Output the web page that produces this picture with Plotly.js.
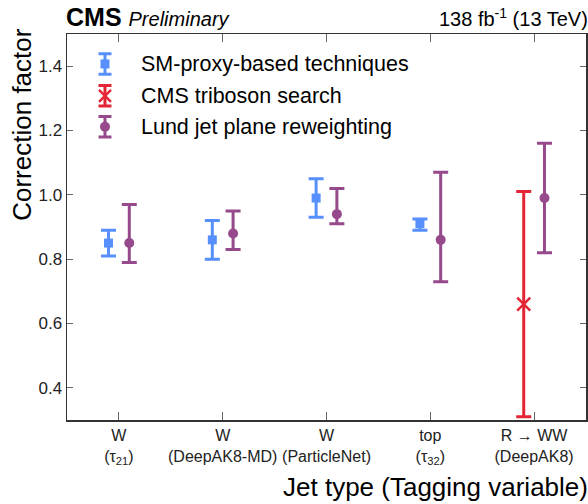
<!DOCTYPE html>
<html><head><meta charset="utf-8">
<script src="https://cdn.plot.ly/plotly-3.0.1.min.js"></script>
<style>html,body{margin:0;padding:0;background:#fff}</style>
</head><body><div id="chart" style="width:588px;height:504px"></div>
<script>
const categories = ["W<br>(τ<sub>21</sub>)", "W<br>(DeepAK8-MD)", "W<br>(ParticleNet)", "top<br>(τ<sub>32</sub>)", "R → WW<br>(DeepAK8)"];

// SM-proxy-based techniques (first four categories)
const smIdx = [0, 1, 2, 3];
const smVal = [0.85, 0.86, 0.99, 0.91];
const smUp = [0.89, 0.92, 1.05, 0.925];
const smLo = [0.81, 0.80, 0.93, 0.89];

// CMS triboson search (last category)
const tribIdx = [4];
const tribVal = [0.66];
const tribUp = [1.01];
const tribLo = [0.31];

// Lund jet plane reweighting (all categories)
const lundIdx = [0, 1, 2, 3, 4];
const lundVal = [0.85, 0.88, 0.94, 0.86, 0.99];
const lundUp = [0.97, 0.95, 1.02, 1.07, 1.16];
const lundLo = [0.79, 0.83, 0.91, 0.73, 0.82];

const seriesNames = ["SM-proxy-based techniques", "CMS triboson search", "Lund jet plane reweighting"];

const OFF = 0.1;
const blue = "#5790fc", red = "#e42536", purple = "#964a8b";
const FONT = "Liberation Sans, Arial, Helvetica, sans-serif";

function style(color, symbol, size) {
  return {color: color, symbol: symbol, size: size,
    line: {color: color, width: symbol.startsWith("x") ? 2.5 : 0}};
}
function mk(name, idx, off, val, up, lo, color, symbol, size) {
  return {
    type: "scatter", mode: "markers", name: name, showlegend: false,
    x: idx.map(i => i + off), y: val,
    marker: style(color, symbol, size),
    error_y: {type: "data", symmetric: false,
      array: up.map((u, k) => u - val[k]),
      arrayminus: lo.map((l, k) => val[k] - l),
      color: color, thickness: 3, width: 7.5}
  };
}

const traces = [
  mk(seriesNames[0], smIdx, -OFF, smVal, smUp, smLo, blue, "square", 9),
  mk(seriesNames[1], tribIdx, -OFF, tribVal, tribUp, tribLo, red, "x-thin", 13),
  mk(seriesNames[2], lundIdx, OFF, lundVal, lundUp, lundLo, purple, "circle", 10)
];

// Legend key glyphs drawn on an invisible overlay axis (layout decoration, not data)
const legendColors = [blue, red, purple];
const legendSymbols = ["square", "x-thin", "circle"];
const legendSizes = [9, 12, 10];
const legendRowY = [0.9225, 0.8398, 0.7597];
const legendKeyX = 0.0732, legendTextX = 0.139, legendHalf = 0.0266;
legendColors.forEach((c, k) => {
  traces.push({type: "scatter", mode: "markers", xaxis: "x2", yaxis: "y2", showlegend: false,
    hoverinfo: "skip", x: [legendKeyX], y: [legendRowY[k]],
    marker: style(c, legendSymbols[k], legendSizes[k]),
    error_y: {type: "constant", value: legendHalf, color: c, thickness: 3, width: 6.5}});
});

const axisCommon = {showline: true, linecolor: "#333", linewidth: 1.5, mirror: "ticks",
  ticks: "inside", tickcolor: "#666", tickwidth: 1, showgrid: false, zeroline: false,
  tickfont: {family: FONT, size: 17, color: "#222"}};

const annotations = [
  {xref: "paper", yref: "paper", x: 0, y: 1, xanchor: "left", yanchor: "bottom", yshift: 1, xshift: -3, showarrow: false,
   text: "<b>CMS</b> <i style='font-size:20px'>Preliminary</i>", font: {family: FONT, size: 25, color: "#000"}},
  {xref: "paper", yref: "paper", x: 1, y: 1, xanchor: "right", yanchor: "bottom", yshift: 2, xshift: 4, showarrow: false,
   text: "138 fb<sup>-1</sup> (13 TeV)", font: {family: FONT, size: 20, color: "#000"}},
  {xref: "paper", yref: "paper", x: 1, y: 0, xanchor: "right", yanchor: "middle", yshift: -67, xshift: 4, showarrow: false,
   text: "Jet type (Tagging variable)", font: {family: FONT, size: 26, color: "#000"}},
  {xref: "paper", yref: "paper", x: 0, y: 1.02, xanchor: "center", yanchor: "top", xshift: -45, textangle: -90, showarrow: false,
   text: "Correction factor", font: {family: FONT, size: 26, color: "#000"}}
];
seriesNames.forEach((n, k) => annotations.push({
  xref: "x2", yref: "y2", x: legendTextX, y: legendRowY[k], xanchor: "left", yanchor: "middle", showarrow: false,
  text: n, font: {family: FONT, size: 21.5, color: "#000"}}));

const layout = {
  width: 588, height: 504,
  margin: {l: 67, r: 2, t: 34, b: 84},
  paper_bgcolor: "#fff", plot_bgcolor: "#fff",
  font: {family: FONT, color: "#111"},
  showlegend: false,
  xaxis: Object.assign({}, axisCommon, {
    range: [-0.5, 4.5], tickmode: "array", tickvals: [0, 1, 2, 3, 4], ticktext: categories,
    ticklen: 8, tickangle: 0, tickfont: {family: FONT, size: 16, color: "#222"}
  }),
  yaxis: Object.assign({}, axisCommon, {
    range: [0.3, 1.5], tickvals: [0.4, 0.6, 0.8, 1.0, 1.2, 1.4], ticktext: ["0.4", "0.6", "0.8", "1.0", "1.2", "1.4"],
    ticklen: 6
  }),
  xaxis2: {overlaying: "x", range: [0, 1], visible: false, fixedrange: true},
  yaxis2: {overlaying: "y", range: [0, 1], visible: false, fixedrange: true},
  annotations: annotations
};

Plotly.newPlot("chart", traces, layout, {displayModeBar: false, staticPlot: true});
</script>
</body></html>
